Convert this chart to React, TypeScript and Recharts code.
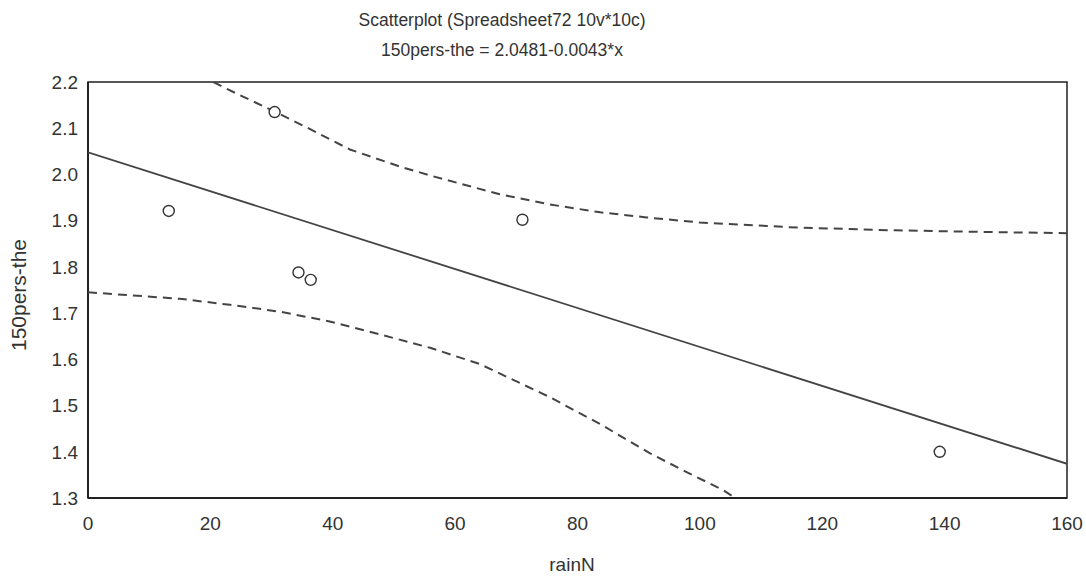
import React from "react";
import {
  ScatterChart,
  Scatter,
  XAxis,
  YAxis,
  ReferenceArea,
} from "recharts";

const xTicks = [0, 20, 40, 60, 80, 100, 120, 140, 160];
const yTicks = [1.3, 1.4, 1.5, 1.6, 1.7, 1.8, 1.9, 2.0, 2.1, 2.2];

const points = [
  { x: 13.2, y: 1.921 },
  { x: 30.5, y: 2.135 },
  { x: 34.4, y: 1.788 },
  { x: 36.4, y: 1.772 },
  { x: 71.0, y: 1.902 },
  { x: 139.2, y: 1.4 },
];

const fitLine = [
  { x: 0, y: 2.048 },
  { x: 160, y: 1.374 },
];

const upperBand = [
  { x: 20.5, y: 2.2 },
  { x: 22.7, y: 2.185 },
  { x: 30.5, y: 2.136 },
  { x: 36.0, y: 2.1 },
  { x: 42.8, y: 2.054 },
  { x: 51.0, y: 2.017 },
  { x: 56.4, y: 1.996 },
  { x: 67.3, y: 1.957 },
  { x: 75.5, y: 1.935 },
  { x: 83.7, y: 1.918 },
  { x: 91.3, y: 1.907 },
  { x: 100.0, y: 1.896 },
  { x: 116.0, y: 1.885 },
  { x: 132.0, y: 1.879 },
  { x: 149.0, y: 1.875 },
  { x: 160.0, y: 1.873 },
];

const lowerBand = [
  { x: 0, y: 1.745 },
  { x: 15.0, y: 1.731 },
  { x: 23.2, y: 1.718 },
  { x: 31.4, y: 1.703 },
  { x: 39.5, y: 1.682 },
  { x: 47.7, y: 1.654 },
  { x: 55.9, y: 1.625 },
  { x: 64.0, y: 1.59 },
  { x: 75.5, y: 1.518 },
  { x: 83.7, y: 1.46 },
  { x: 91.8, y: 1.397 },
  { x: 98.0, y: 1.355 },
  { x: 103.8, y: 1.317 },
  { x: 105.8, y: 1.3 },
];

const FONT = "'Liberation Sans', Arial, sans-serif";
const INK = "#333";

const noDot = () => <g />;

export default function App() {
  return (
    <div
      style={{
        position: "absolute",
        left: 0,
        top: 0,
        width: 1086,
        height: 576,
        background: "#fff",
        fontFamily: FONT,
        color: INK,
      }}
    >
      <div
        style={{
          position: "absolute",
          left: 0,
          width: 1004,
          top: 5,
          textAlign: "center",
          fontSize: 17.5,
          lineHeight: "30px",
        }}
      >
        <div>Scatterplot (Spreadsheet72 10v*10c)</div>
        <div>150pers-the = 2.0481-0.0043*x</div>
      </div>
      <div
        style={{
          position: "absolute",
          left: 472,
          width: 200,
          top: 553,
          textAlign: "center",
          fontSize: 19,
          lineHeight: "24px",
        }}
      >
        rainN
      </div>
      <div
        style={{
          position: "absolute",
          left: 19 - 100,
          width: 200,
          top: 295 - 12,
          textAlign: "center",
          fontSize: 21,
          lineHeight: "24px",
          transform: "rotate(-90deg)",
        }}
      >
        150pers-the
      </div>
      <ScatterChart
        width={1086}
        height={576}
        margin={{ top: 82, right: 19, left: 0, bottom: 0 }}
      >
        <XAxis
          type="number"
          dataKey="x"
          domain={[0, 160]}
          ticks={xTicks}
          interval={0}
          height={78}
          tickLine={false}
          tickSize={6}
          tickMargin={13}
          axisLine={{ stroke: "#222", strokeWidth: 2 }}
          tick={{ fontSize: 19, fill: INK, fontFamily: FONT }}
          allowDataOverflow
        />
        <YAxis
          type="number"
          dataKey="y"
          domain={[1.3, 2.2]}
          ticks={yTicks}
          interval={0}
          width={88}
          tickLine={false}
          tickSize={4}
          tickMargin={6}
          axisLine={{ stroke: "#222", strokeWidth: 2 }}
          tick={{ fontSize: 19, fill: INK, fontFamily: FONT }}
          tickFormatter={(v: number) => v.toFixed(1)}
          allowDataOverflow
        />
        <ReferenceArea
          x1={0}
          x2={160}
          y1={1.3}
          y2={2.2}
          fill="none"
          stroke="#222"
          strokeWidth={1.5}
        />
        <Scatter
          data={fitLine}
          line={{ stroke: "#444", strokeWidth: 1.8 }}
          shape={noDot}
          isAnimationActive={false}
        />
        <Scatter
          data={upperBand}
          line={{ stroke: "#444", strokeWidth: 2, strokeDasharray: "9 6" }}
          shape={noDot}
          isAnimationActive={false}
        />
        <Scatter
          data={lowerBand}
          line={{ stroke: "#444", strokeWidth: 2, strokeDasharray: "9 6" }}
          shape={noDot}
          isAnimationActive={false}
        />
        <Scatter
          data={points}
          fill="#fff"
          stroke="#333"
          strokeWidth={1.4}
          shape={(p: any) => (
            <circle
              cx={p.cx}
              cy={p.cy}
              r={5.5}
              fill="#fff"
              stroke="#333"
              strokeWidth={1.4}
            />
          )}
          isAnimationActive={false}
        />
      </ScatterChart>
    </div>
  );
}
